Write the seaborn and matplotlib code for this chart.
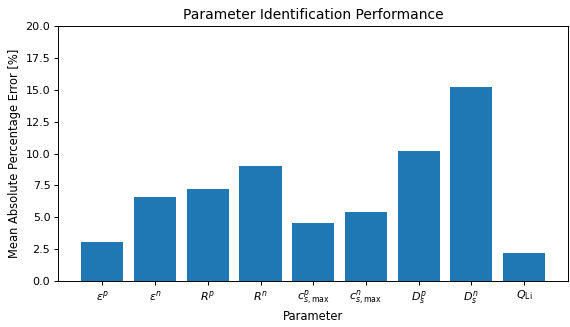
import matplotlib
matplotlib.use("Agg")
import matplotlib.pyplot as plt
import seaborn as sns
import pandas as pd

parameters = [r"$\epsilon^p$", r"$\epsilon^n$", r"$R^p$", r"$R^n$",
              r"$c_{s,\max}^p$", r"$c_{s,\max}^n$", r"$D_s^p$", r"$D_s^n$",
              r"$Q_{\mathrm{Li}}$"]
mape = [3.08, 6.62, 7.2, 9.04, 4.57, 5.41, 10.2, 15.2, 2.17]
y_ticks = [0, 2.5, 5, 7.5, 10, 12.5, 15, 17.5, 20]

df = pd.DataFrame({"Parameter": parameters, "MAPE": mape})

plt.rcParams["font.family"] = ["DejaVu Sans"]
plt.rcParams["font.size"] = 8
plt.rcParams["axes.linewidth"] = 0.7

fig = plt.figure(figsize=(5.7, 3.27), dpi=100)
ax = fig.add_axes([0.102, 0.141, 0.895, 0.779])

sns.barplot(data=df, x="Parameter", y="MAPE", color="#1f77b4",
            saturation=1, width=0.8, ax=ax)

ax.set_xlim(-0.84, len(parameters) - 0.16)
ax.set_ylim(0, 20)
ax.set_yticks(y_ticks)
ax.set_yticklabels([f"{v:.1f}" for v in y_ticks])
ax.set_xlabel("Parameter", fontsize=8.3, labelpad=2.5)
ax.set_ylabel("Mean Absolute Percentage Error [%]", fontsize=8.3, labelpad=3.5)
ax.set_title("Parameter Identification Performance", fontsize=10, pad=5)
ax.tick_params(labelsize=8, length=2.8, width=0.7, pad=2.8)

fig.savefig("out.png", dpi=100)
